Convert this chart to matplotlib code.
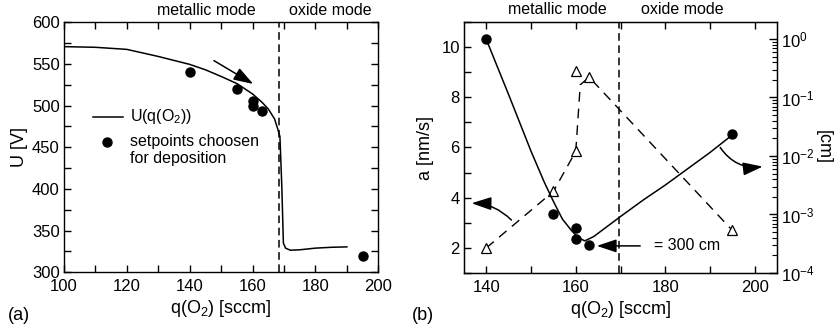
import numpy as np
import matplotlib
matplotlib.use("Agg")
import matplotlib.pyplot as plt
from matplotlib.ticker import MultipleLocator, FixedLocator, LogLocator, NullFormatter

plt.rcParams['font.family'] = ['Liberation Sans', 'DejaVu Sans']
plt.rcParams['mathtext.fontset'] = 'custom'
plt.rcParams['mathtext.rm'] = 'Liberation Sans'
plt.rcParams['mathtext.it'] = 'Liberation Sans:italic'
plt.rcParams['mathtext.bf'] = 'Liberation Sans:bold'
plt.rcParams['font.size'] = 11.5

# ---------------- data: panel (a) ----------------
u_curve_q = [100, 110, 120, 130, 140, 145, 150, 155, 160, 163, 165, 167, 168, 168.7,
             169.3, 169.8, 170.5, 172, 175, 180, 185, 190]
u_curve_U = [570.8, 570, 567.5, 559, 549.5, 543, 535, 526.5, 514, 504, 496, 484, 472, 463,
             403, 335, 329, 326.5, 327, 329, 330, 330.5]
set_q = [140, 155, 160, 160, 163, 195]
set_U = [540, 520, 506, 499, 494, 320]
mode_boundary_a = 168.5

# ---------------- data: panel (b) ----------------
# deposition rate a [nm/s] (open triangles, left axis)
rate_q = [140, 155, 160, 160, 163, 195]
rate_a = [2.0, 4.25, 5.85, 9.05, 8.8, 2.7]
# dashed guide line through rate points
guide_q = [140, 155, 160, 161, 163, 195]
guide_a = [2.0, 4.25, 5.85, 8.5, 8.8, 2.7]
# resistivity [cm] (filled circles, right log axis)
res_q = [140, 155, 160, 160, 163, 195]
res_rho = [0.98, 1.0e-3, 5.8e-4, 3.8e-4, 3.05e-4, 0.024]
# solid fit line for resistivity
fit_q = [140, 145, 150, 153, 155, 157, 159, 160.5, 162, 164, 167, 170, 175, 180, 185, 190, 195]
fit_rho = [0.977, 0.111, 0.0120, 3.50e-3, 1.67e-3, 8.36e-4, 5.36e-4, 4.06e-4, 3.54e-4,
           4.19e-4, 6.22e-4, 9.23e-4, 1.75e-3, 3.18e-3, 6.03e-3, 0.01145, 0.0229]
mode_boundary_b = 169.6

W, H = 839, 333
fig = plt.figure(figsize=(W / 100, H / 100), dpi=100)

def px_axes(l, t, r, b):
    return fig.add_axes([l / W, 1 - b / H, (r - l) / W, (b - t) / H])

lw_sp = 1.0
TICK_FS = 12
TXT_FS = 11.5
LAB_FS = 13

def style_ticks(a):
    a.tick_params(which='both', direction='in', top=True, right=True, width=1.0, length=5)
    a.tick_params(axis='x', which='major', labelsize=TICK_FS, pad=5)
    a.tick_params(axis='y', which='major', labelsize=TICK_FS, pad=3)

# ================= panel (a) =================
ax = px_axes(64, 22.3, 378.3, 272.3)
for s in ax.spines.values():
    s.set_linewidth(lw_sp)
ax.plot(u_curve_q, u_curve_U, color='k', lw=1.1, zorder=3)
ax.plot(set_q, set_U, 'o', color='k', ms=6.5, zorder=4)
ax.axvline(mode_boundary_a, color='k', lw=1.1, ls=(0, (5, 3)), zorder=2)
ax.set_xlim(100, 200)
ax.set_ylim(300, 600)
ax.xaxis.set_major_locator(MultipleLocator(20))
ax.xaxis.set_minor_locator(MultipleLocator(10))
ax.yaxis.set_major_locator(MultipleLocator(50))
ax.yaxis.set_minor_locator(MultipleLocator(25))
style_ticks(ax)
ax.set_xlabel('q(O$_2$) [sccm]', fontsize=LAB_FS, labelpad=3)
ax.set_ylabel('U [V]', fontsize=LAB_FS, labelpad=3)
ax.annotate('', xy=(160.2, 526), xytext=(147.7, 554),
            arrowprops=dict(arrowstyle='-|>,head_length=0.6,head_width=0.2', color='k',
                            lw=1.1, mutation_scale=20, shrinkA=0, shrinkB=0))
ax.text(145.2, 1.049, 'metallic mode', transform=ax.get_xaxis_transform(),
        ha='center', va='center', fontsize=TXT_FS)
ax.text(184.6, 1.049, 'oxide mode', transform=ax.get_xaxis_transform(),
        ha='center', va='center', fontsize=TXT_FS)
# legend
ax.plot([0.0913, 0.1887], [0.6224, 0.6224], transform=ax.transAxes, color='k', lw=1.1)
ax.plot([0.1378], [0.5224], 'o', color='k', ms=6.5, transform=ax.transAxes)
ax.text(0.21, 0.6224, 'U(q(O$_2$))', transform=ax.transAxes, va='center', ha='left', fontsize=TXT_FS)
ax.text(0.21, 0.5224, 'setpoints choosen', transform=ax.transAxes, va='center', ha='left', fontsize=TXT_FS)
ax.text(0.21, 0.457, 'for deposition', transform=ax.transAxes, va='center', ha='left', fontsize=TXT_FS)
fig.text(8 / W, 1 - 315 / H, '(a)', ha='left', va='center', fontsize=LAB_FS)

# ================= panel (b) =================
bx = px_axes(464, 22, 777, 273)
for s in bx.spines.values():
    s.set_linewidth(lw_sp)
bx.plot(guide_q, guide_a, color='k', lw=1.0, ls=(0, (7, 5)), zorder=2)
bx.plot(rate_q, rate_a, '^', mfc='white', mec='k', mew=0.9, ms=6.5, color='k', zorder=4)
bx.axvline(mode_boundary_b, color='k', lw=1.1, ls=(0, (5, 3)), zorder=2)
bx.set_xlim(135, 205)
bx.set_ylim(1, 11)
bx.xaxis.set_major_locator(MultipleLocator(20))
bx.xaxis.set_minor_locator(FixedLocator([150, 170, 190]))
bx.yaxis.set_major_locator(MultipleLocator(2))
bx.yaxis.set_minor_locator(MultipleLocator(1))
style_ticks(bx)
bx.tick_params(labelright=False)
bx.set_xlabel('q(O$_2$) [sccm]', fontsize=LAB_FS, labelpad=3)
bx.set_ylabel('a [nm/s]', fontsize=LAB_FS, labelpad=5)
bx.text(155.9, 1.048, 'metallic mode', transform=bx.get_xaxis_transform(),
        ha='center', va='center', fontsize=TXT_FS)
bx.text(183.9, 1.048, 'oxide mode', transform=bx.get_xaxis_transform(),
        ha='center', va='center', fontsize=TXT_FS)

bx2 = bx.twinx()
bx2.set_yscale('log')
bx2.set_ylim(1e-4, 10 ** 0.29)
bx2.plot(fit_q, fit_rho, color='k', lw=1.1, zorder=3)
bx2.plot(res_q, res_rho, 'o', color='k', ms=6.5, zorder=4)
bx2.yaxis.set_major_locator(LogLocator(base=10, numticks=10))
bx2.yaxis.set_minor_locator(LogLocator(base=10, subs=np.arange(2, 10), numticks=20))
bx2.yaxis.set_minor_formatter(NullFormatter())
bx2.tick_params(which='major', direction='in', length=6, width=1.0, labelsize=TICK_FS, pad=3)
bx2.tick_params(which='minor', direction='in', length=3.5, width=0.8)
bx2.set_ylabel('[cm]', fontsize=LAB_FS, rotation=270, va='bottom', labelpad=0)

arrow_kw = dict(arrowstyle='-|>,head_length=0.6,head_width=0.2', color='k',
                lw=1.1, mutation_scale=20, shrinkA=0, shrinkB=0)
bx.annotate('', xy=(136.7, 3.78), xytext=(145.6, 3.11),
            arrowprops=dict(connectionstyle='arc3,rad=0.2', **arrow_kw))
bx.annotate('', xy=(201.8, 5.24), xytext=(192.3, 6.0),
            arrowprops=dict(connectionstyle='arc3,rad=0.3', **arrow_kw))
bx.annotate('', xy=(164.7, 2.08), xytext=(174.4, 2.08),
            arrowprops=dict(arrow_kw))
bx.text(177.6, 2.08, '= 300 cm', ha='left', va='center', fontsize=TXT_FS)
fig.text(412 / W, 1 - 315 / H, '(b)', ha='left', va='center', fontsize=LAB_FS)

fig.savefig('out.png', dpi=100)
